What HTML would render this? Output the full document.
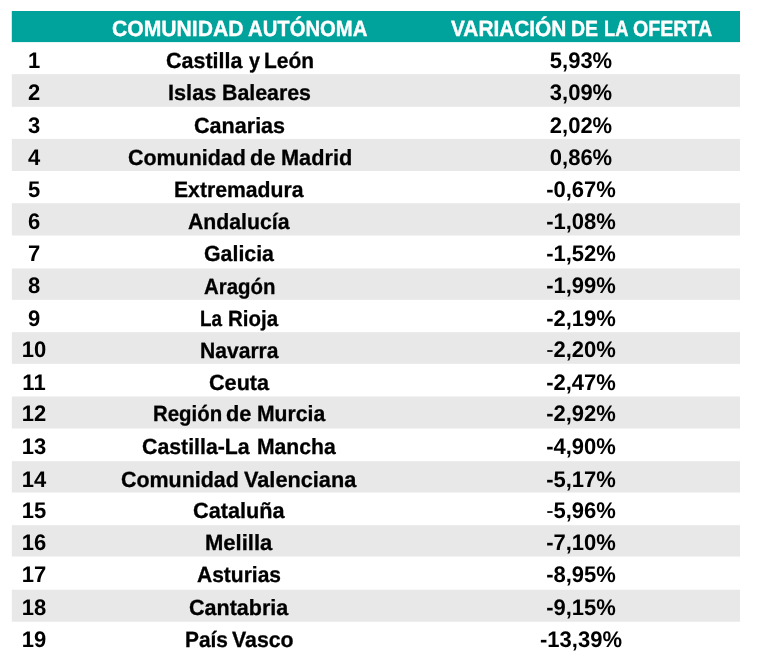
<!DOCTYPE html>
<html lang="es"><head><meta charset="utf-8"><title>Variación de la oferta</title>
<style>
html,body{margin:0;padding:0;background:#fff;}
body{text-rendering:geometricPrecision;width:765px;height:665px;position:relative;overflow:hidden;font-family:"Liberation Sans",sans-serif;font-weight:bold;color:#000;}
svg{position:absolute;left:0;top:0;}
.t{position:absolute;white-space:nowrap;font-size:22.5px;line-height:24px;transform:translateX(-50%) scaleX(.9778);}
.a,.h{position:absolute;left:0;top:0;width:765px;height:0;font-size:22px;line-height:24px;-webkit-text-stroke:0.3px #000;}
.h{color:#fff;font-size:22px;-webkit-text-stroke:0.4px #fff;}
.n{font-weight:normal;}
.w{position:absolute;white-space:nowrap;transform-origin:0 0;}
</style></head><body>
<svg width="765" height="665">
<rect x="11.8" y="11" width="728.20" height="31.1" fill="#00a39b"/>
<rect x="11.8" y="74.20" width="728.20" height="32.60" fill="#e8e8e8"/>
<rect x="11.8" y="138.90" width="728.20" height="32.10" fill="#e8e8e8"/>
<rect x="11.8" y="203.20" width="728.20" height="32.30" fill="#e8e8e8"/>
<rect x="11.8" y="268.50" width="728.20" height="31.30" fill="#e8e8e8"/>
<rect x="11.8" y="332.20" width="728.20" height="31.60" fill="#e8e8e8"/>
<rect x="11.8" y="396.50" width="728.20" height="32.00" fill="#e8e8e8"/>
<rect x="11.8" y="461.20" width="728.20" height="31.30" fill="#e8e8e8"/>
<rect x="11.8" y="525.20" width="728.20" height="31.30" fill="#e8e8e8"/>
<rect x="11.8" y="589.70" width="728.20" height="32.00" fill="#e8e8e8"/>
</svg>
<div class="h"><span class="w" style="left:111.58px;top:17px;transform:scaleX(0.9609)">COMUNIDAD</span> <span class="w" style="left:247.57px;top:17px;transform:scaleX(0.9217)">AUTÓNOMA</span> <span class="w" style="left:450.80px;top:17px;transform:scaleX(0.9469)">VARIACIÓN</span> <span class="w" style="left:571.29px;top:17px;transform:scaleX(0.8870)">DE</span> <span class="w" style="left:603.86px;top:17px;transform:scaleX(0.8324)">LA</span> <span class="w" style="left:632.93px;top:17px;transform:scaleX(0.8923)">OFERTA</span></div>
<div class="t" style="left:34.0px;top:49px">1</div>
<div class="a"><span class="w" style="left:165.67px;top:49px;transform:scaleX(0.9762)">Castilla</span> <span class="w" style="left:248.50px;top:49px;transform:scaleX(0.8980)">y</span> <span class="w" style="left:264.01px;top:49px;transform:scaleX(0.9500)">León</span></div>
<div class="t" style="left:581.2px;top:49px">5,93%</div>
<div class="t" style="left:34.0px;top:81px">2</div>
<div class="a"><span class="w" style="left:168.17px;top:81px;transform:scaleX(0.9872)">Islas</span> <span class="w" style="left:221.59px;top:81px;transform:scaleX(0.9694)">Baleares</span></div>
<div class="t" style="left:581.2px;top:81px">3,09%</div>
<div class="t" style="left:34.0px;top:114px">3</div>
<div class="a"><span class="w" style="left:193.66px;top:114px;transform:scaleX(0.9803)">Canarias</span></div>
<div class="t" style="left:581.2px;top:114px">2,02%</div>
<div class="t" style="left:34.0px;top:146px">4</div>
<div class="a"><span class="w" style="left:127.77px;top:146px;transform:scaleX(0.9739)">Comunidad</span> <span class="w" style="left:250.36px;top:146px;transform:scaleX(0.9897)">de</span> <span class="w" style="left:280.57px;top:146px;transform:scaleX(0.9871)">Madrid</span></div>
<div class="t" style="left:581.2px;top:146px">0,86%</div>
<div class="t" style="left:34.0px;top:178px">5</div>
<div class="a"><span class="w" style="left:173.80px;top:178px;transform:scaleX(0.9625)">Extremadura</span></div>
<div class="t" style="left:581.2px;top:178px">-0,67%</div>
<div class="t" style="left:34.0px;top:210px">6</div>
<div class="a"><span class="w" style="left:187.72px;top:210px;transform:scaleX(0.9657)">Andalucía</span></div>
<div class="t" style="left:581.2px;top:210px">-1,08%</div>
<div class="t" style="left:34.0px;top:242px">7</div>
<div class="a"><span class="w" style="left:203.57px;top:242px;transform:scaleX(0.9700)">Galicia</span></div>
<div class="t" style="left:581.2px;top:242px">-1,52%</div>
<div class="t" style="left:34.0px;top:274px">8</div>
<div class="a"><span class="w" style="left:203.54px;top:275px;transform:scaleX(0.9289)">Aragón</span></div>
<div class="t" style="left:581.2px;top:274px">-1,99%</div>
<div class="t" style="left:34.0px;top:307px">9</div>
<div class="a"><span class="w" style="left:199.73px;top:307px;transform:scaleX(0.8566)">La</span> <span class="w" style="left:227.84px;top:307px;transform:scaleX(0.9308)">Rioja</span></div>
<div class="t" style="left:581.2px;top:307px">-2,19%</div>
<div class="t" style="left:34.0px;top:338px">10</div>
<div class="a"><span class="w" style="left:199.50px;top:339px;transform:scaleX(0.9580)">Navarra</span></div>
<div class="t" style="left:581.2px;top:338px"><span class="n">-</span>2,20%</div>
<div class="t" style="left:34.0px;top:371px">11</div>
<div class="a"><span class="w" style="left:208.66px;top:371px;transform:scaleX(0.9827)">Ceuta</span></div>
<div class="t" style="left:581.2px;top:371px">-2,47%</div>
<div class="t" style="left:34.0px;top:402px">12</div>
<div class="a"><span class="w" style="left:152.84px;top:402px;transform:scaleX(0.9278)">Región</span> <span class="w" style="left:226.46px;top:402px;transform:scaleX(0.9856)">de</span> <span class="w" style="left:256.60px;top:402px;transform:scaleX(0.9614)">Murcia</span></div>
<div class="t" style="left:581.2px;top:402px">-2,92%</div>
<div class="t" style="left:34.0px;top:435px">13</div>
<div class="a"><span class="w" style="left:142.27px;top:435px;transform:scaleX(0.9679)">Castilla-La</span> <span class="w" style="left:256.60px;top:435px;transform:scaleX(0.9605)">Mancha</span></div>
<div class="t" style="left:581.2px;top:435px">-4,90%</div>
<div class="t" style="left:34.0px;top:468px">14</div>
<div class="a"><span class="w" style="left:121.47px;top:468px;transform:scaleX(0.9739)">Comunidad</span> <span class="w" style="left:244.00px;top:468px;transform:scaleX(0.9868)">Valenciana</span></div>
<div class="t" style="left:581.2px;top:468px">-5,17%</div>
<div class="t" style="left:34.0px;top:499px">15</div>
<div class="a"><span class="w" style="left:192.96px;top:499px;transform:scaleX(0.9849)">Cataluña</span></div>
<div class="t" style="left:581.2px;top:499px"><span class="n">-</span>5,96%</div>
<div class="t" style="left:34.0px;top:531px">16</div>
<div class="a"><span class="w" style="left:204.85px;top:531px;transform:scaleX(1.0008)">Melilla</span></div>
<div class="t" style="left:581.2px;top:531px">-7,10%</div>
<div class="t" style="left:34.0px;top:563px">17</div>
<div class="a"><span class="w" style="left:197.22px;top:563px;transform:scaleX(0.9545)">Asturias</span></div>
<div class="t" style="left:581.2px;top:563px">-8,95%</div>
<div class="t" style="left:34.0px;top:596px">18</div>
<div class="a"><span class="w" style="left:188.97px;top:596px;transform:scaleX(0.9782)">Cantabria</span></div>
<div class="t" style="left:581.2px;top:596px">-9,15%</div>
<div class="t" style="left:34.0px;top:628px">19</div>
<div class="a"><span class="w" style="left:184.82px;top:628px;transform:scaleX(0.9480)">País</span> <span class="w" style="left:232.00px;top:628px;transform:scaleX(0.9683)">Vasco</span></div>
<div class="t" style="left:581.2px;top:628px">-13,39%</div>
</body></html>
